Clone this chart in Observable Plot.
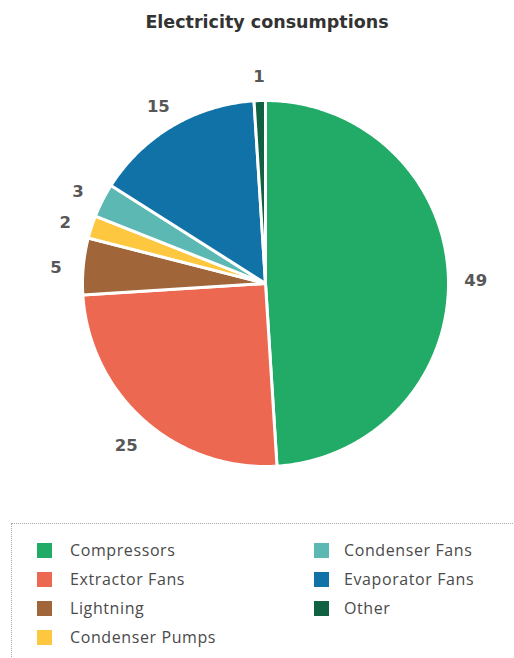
<!DOCTYPE html>
<html>
<head>
<meta charset="utf-8">
<script src="https://cdn.jsdelivr.net/npm/d3@7"></script>
<script src="https://cdn.jsdelivr.net/npm/@observablehq/plot@0.6"></script>
<style>
  html, body { margin: 0; padding: 0; background: #fff; overflow: hidden; }
  body { width: 514px; height: 658px; position: relative; font-family: "Open Sans", Lato, sans-serif; }
  #title { position: absolute; left: 0; top: 12px; width: 534px; text-align: center; font-size: 17.5px; font-weight: 700; color: #333; font-family: "DejaVu Sans", sans-serif; }
  #chart { position: absolute; left: 0; top: 40px; }
  #legend { position: absolute; left: 11px; top: 523px; width: 540px; height: 160px; border: 1px dotted #aaa; box-sizing: border-box; }
  .item { position: absolute; font-size: 16px; color: #4a4a4a; line-height: 16px; letter-spacing: 0.6px; }
  .sw { position: absolute; width: 15px; height: 15px; }
</style>
</head>
<body>
<div id="title">Electricity consumptions</div>
<div id="chart"></div>
<div id="legend"></div>
<script>
const categories = ["Compressors", "Extractor Fans", "Lightning", "Condenser Pumps", "Condenser Fans", "Evaporator Fans", "Other"];
const values = [49, 25, 5, 2, 3, 15, 1];
const colors = ["#22ab67", "#ec6851", "#a0663a", "#fdc83f", "#5bb8b3", "#1172a8", "#0f6142"];

const total = d3.sum(values);
const slices = [];
const labels = [];
let acc = 0;
categories.forEach((name, i) => {
  const a0 = acc / total * 2 * Math.PI;
  acc += values[i];
  const a1 = acc / total * 2 * Math.PI;
  const n = Math.max(4, Math.ceil((a1 - a0) / 0.01));
  slices.push({name, x: 0, y: 0, order: 0});
  for (let k = 0; k <= n; k++) {
    const a = a0 + (a1 - a0) * k / n;
    slices.push({name, x: Math.sin(a), y: Math.cos(a), order: k + 1});
  }
  const am = (a0 + a1) / 2;
  labels.push({name, value: values[i], x: 1.15 * Math.sin(am), y: 1.15 * Math.cos(am)});
});

const R = 183;
const W = 514, H = 480, cx = 265, cy = 243;
const chart = Plot.plot({
  width: W, height: H,
  margin: 0,
  x: {domain: [-cx / R, (W - cx) / R], axis: null},
  y: {domain: [-(H - cy) / R, cy / R], axis: null},
  color: {domain: categories, range: colors},
  marks: [
    Plot.line(slices, {x: "x", y: "y", z: "name", fill: "name", stroke: "white", strokeWidth: 3, curve: "linear-closed", strokeLinejoin: "round"}),
    Plot.text(labels, {x: "x", y: "y", dy: 4, text: d => String(d.value), fill: "#575757", fontSize: 16.5, fontWeight: 700, fontFamily: "'DejaVu Sans', sans-serif"})
  ]
});
document.getElementById("chart").appendChild(chart);

const legend = document.getElementById("legend");
categories.forEach((name, i) => {
  const col = i < 4 ? 0 : 1;
  const row = i < 4 ? i : i - 4;
  const sx = col === 0 ? 25 : 302;
  const top = 19 + row * 29;
  const sw = document.createElement("div");
  sw.className = "sw";
  sw.style.left = sx + "px";
  sw.style.top = top + "px";
  sw.style.background = colors[i];
  legend.appendChild(sw);
  const t = document.createElement("div");
  t.className = "item";
  t.style.left = (sx + (col === 0 ? 33 : 30)) + "px";
  t.style.top = (top - 1) + "px";
  t.textContent = name;
  legend.appendChild(t);
});
</script>
</body>
</html>
